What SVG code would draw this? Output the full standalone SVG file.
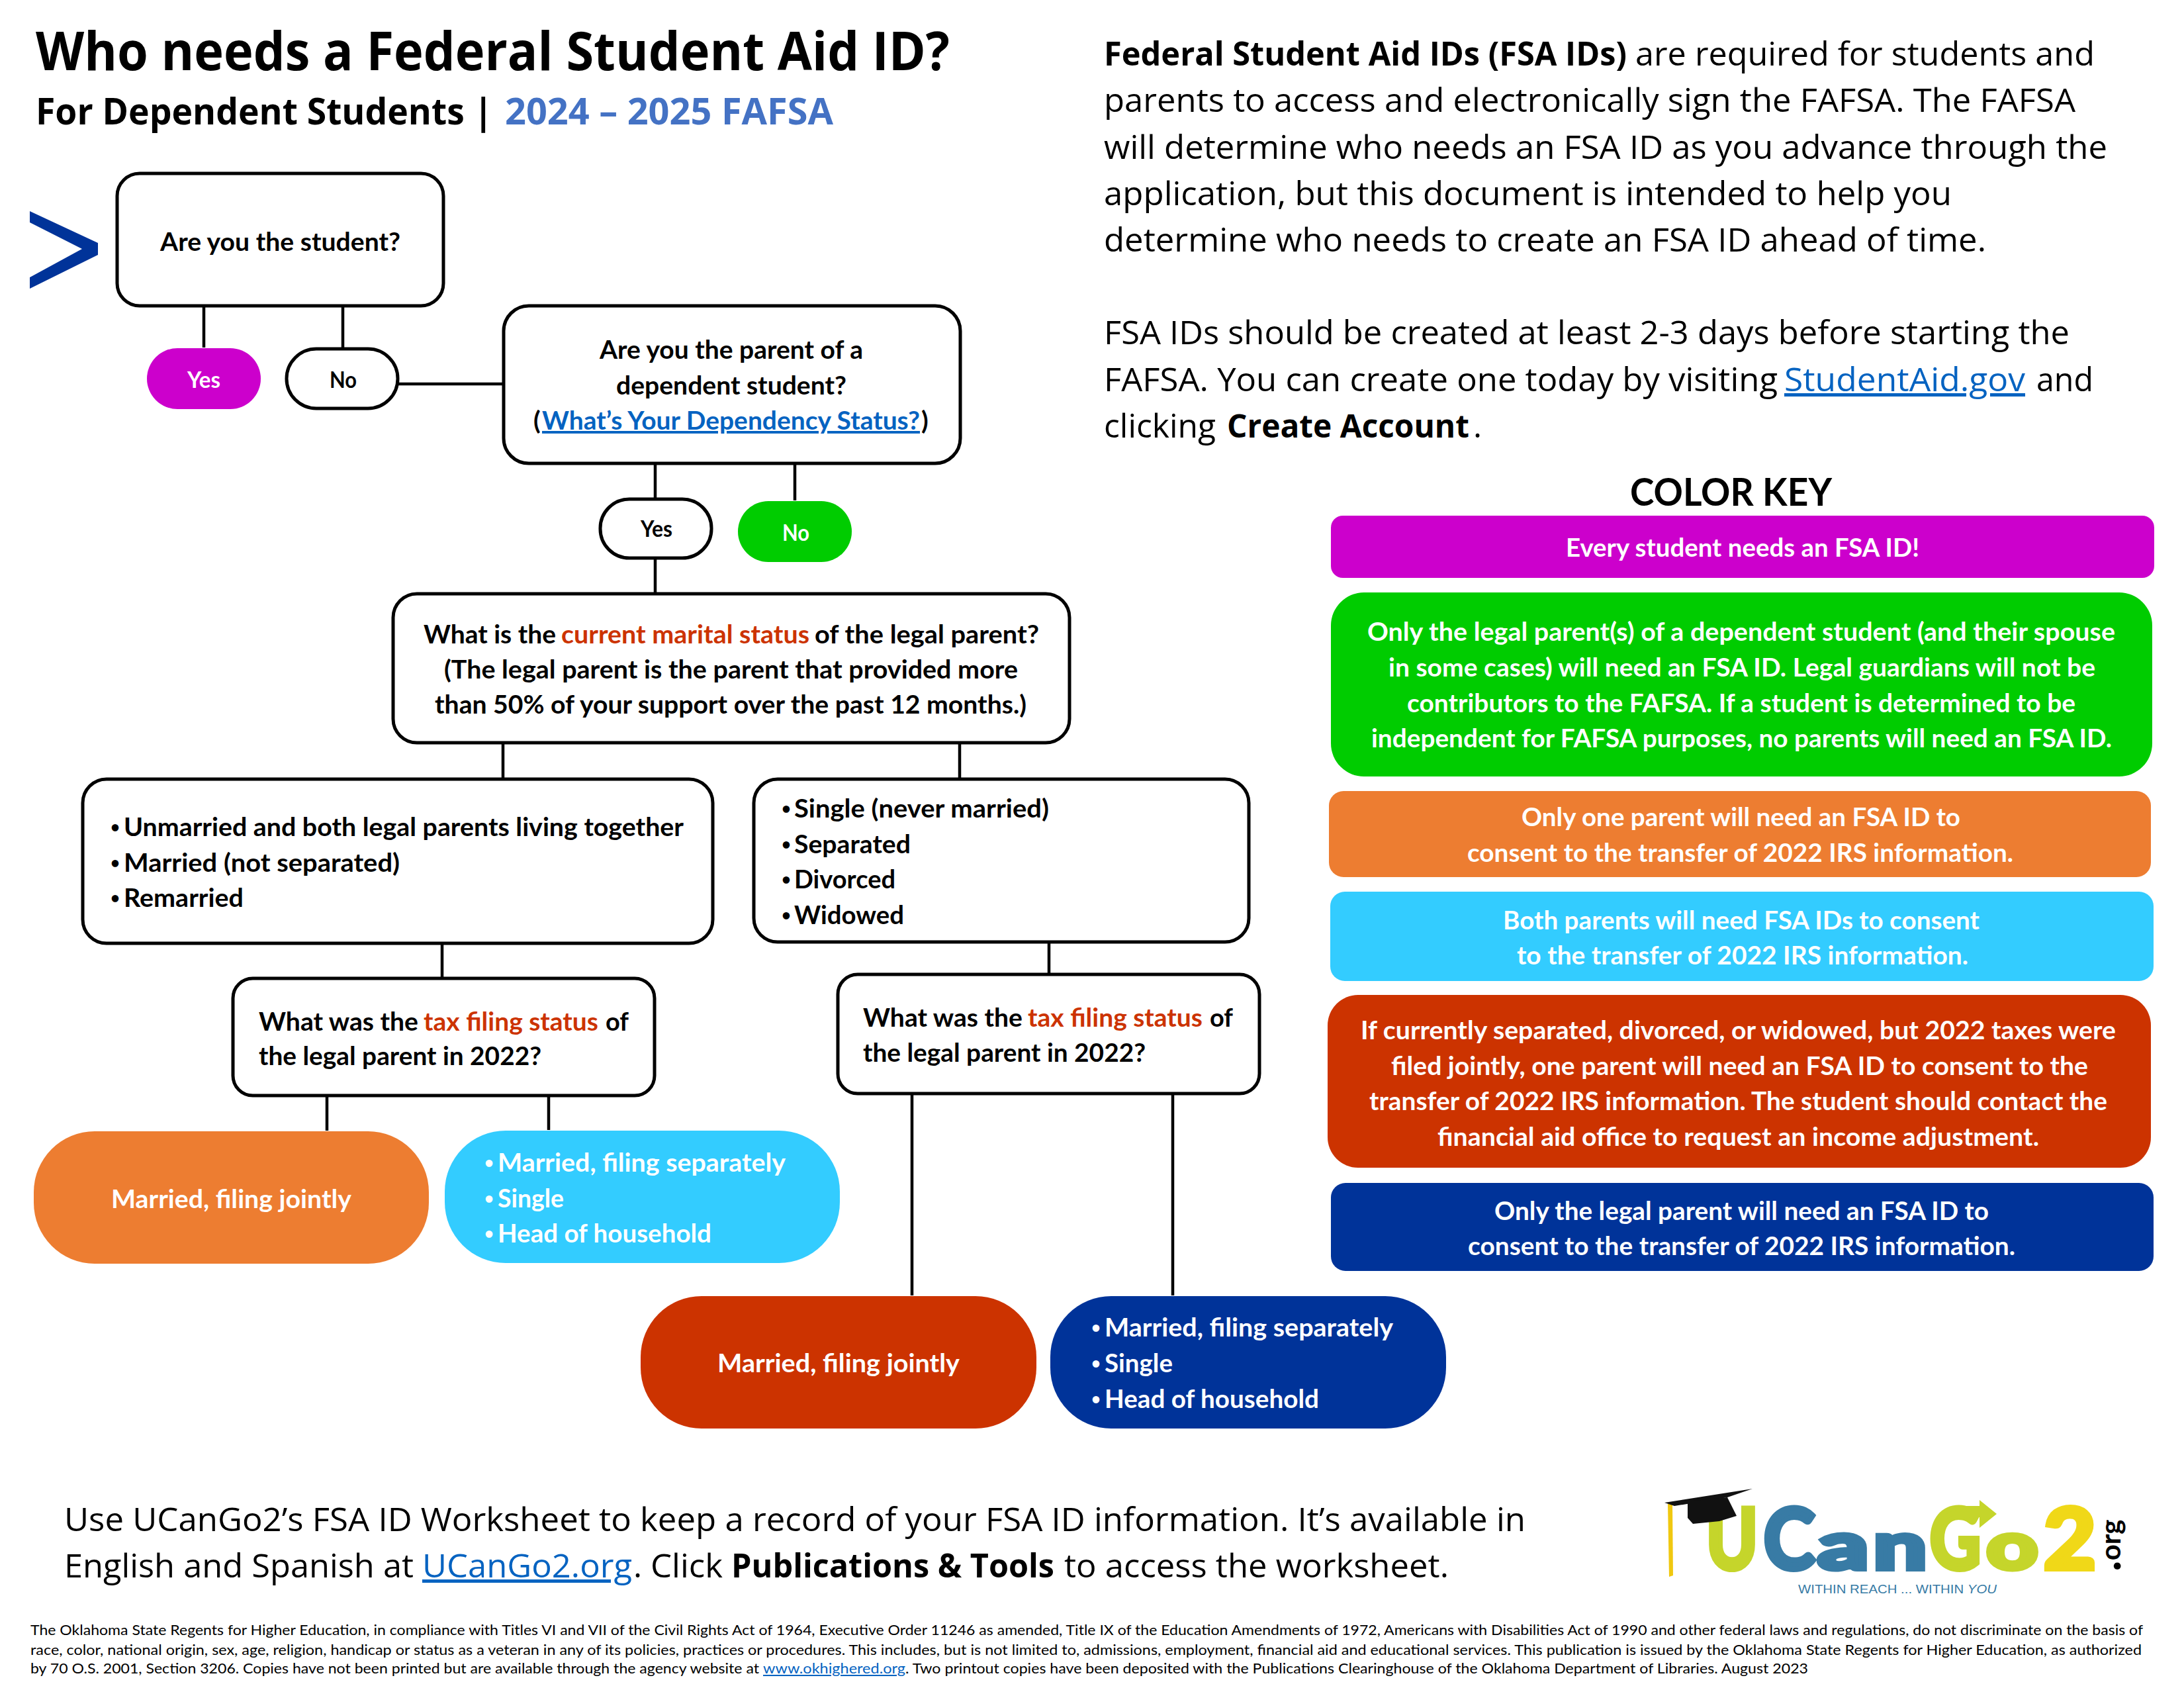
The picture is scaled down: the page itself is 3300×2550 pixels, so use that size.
<svg xmlns="http://www.w3.org/2000/svg" width="3300" height="2550" viewBox="0 0 3300 2550">
<style>
text{font-family:"Lato","Open Sans","Liberation Sans",sans-serif}
.t{font-family:"Open Sans","Liberation Sans",sans-serif;font-weight:700;fill:#000}
.p{font-family:"Open Sans","Liberation Sans",sans-serif;font-size:50px;fill:#000}
.pb{font-weight:700}
.l{fill:#0563C1;text-decoration:underline}
.b{font-weight:700;font-size:39px;fill:#000}
.w{font-weight:700;font-size:39px;fill:#fff}
.d{font-size:24px}
.r{fill:#CC3300}
.box{fill:#fff;stroke:#000;stroke-width:5}
.con{stroke:#000;stroke-width:4.5;fill:none}
.f{font-size:20.5px;fill:#000}
.logo{font-family:"DejaVu Sans Mono","DejaVu Sans",monospace;font-weight:700;stroke-width:8;stroke-linejoin:miter}
</style>
<rect width="3300" height="2550" fill="#fff"/>
<g id="heading">
<text class="t" x="54" y="106" font-size="80" textLength="1381" lengthAdjust="spacingAndGlyphs">Who needs a Federal Student Aid ID?</text>
<text class="t" x="54" y="188" font-size="56" textLength="691" lengthAdjust="spacingAndGlyphs">For Dependent Students |</text>
<text class="t" x="763" y="188" font-size="56" style="fill:#4472C4" textLength="496" lengthAdjust="spacingAndGlyphs">2024 – 2025 FAFSA</text>
</g>
<polygon id="chevron" points="45,319 148,367 148,385 45,436 45,419 124,376 45,336" fill="#003399"/>
<g id="connectors" class="con">
<path d="M308 462V525M518 462V527M601 580H761M990 700V752M1201 700V756M990 843V897M760 1122V1178M1450 1122V1178M668 1425V1476M1585 1423V1471M494 1655V1708M829 1655V1707M1378 1652V1957M1772 1652V1957"/>
</g>
<g id="n-student"><rect class="box" x="177" y="262" width="493" height="200" rx="34"/>
<text class="b" x="242" y="379" textLength="363" lengthAdjust="spacingAndGlyphs">Are you the student?</text></g>
<g id="n-yes1"><rect x="222" y="526" width="172" height="92" rx="46" fill="#CC00CC"/>
<text class="w" x="283" y="586" style="font-size:35px" textLength="50" lengthAdjust="spacingAndGlyphs">Yes</text></g>
<g id="n-no1"><rect class="box" x="433" y="527" width="168" height="90" rx="45"/>
<text class="b" x="498" y="586" style="font-size:35px" textLength="41" lengthAdjust="spacingAndGlyphs">No</text></g>
<g id="n-parent"><rect class="box" x="761" y="462" width="690" height="238" rx="38"/>
<text class="b" x="906" y="542" textLength="398" lengthAdjust="spacingAndGlyphs">Are you the parent of a</text>
<text class="b" x="931" y="596" textLength="348" lengthAdjust="spacingAndGlyphs">dependent student?</text>
<text class="b" x="806" y="649">(</text>
<text class="b l" x="819" y="649" textLength="571" lengthAdjust="spacingAndGlyphs" style="fill:#0563C1">What’s Your Dependency Status?</text>
<text class="b" x="1392" y="649">)</text></g>
<g id="n-yes2"><rect class="box" x="907" y="754" width="168" height="89" rx="44"/>
<text class="b" x="968" y="811" style="font-size:35px" textLength="48" lengthAdjust="spacingAndGlyphs">Yes</text></g>
<g id="n-no2"><rect x="1115" y="757" width="172" height="92" rx="46" fill="#00CC00"/>
<text class="w" x="1182" y="817" style="font-size:35px" textLength="41" lengthAdjust="spacingAndGlyphs">No</text></g>
<g id="n-marital"><rect class="box" x="594" y="897" width="1022" height="225" rx="36"/>
<text class="b" x="640" y="972" textLength="200" lengthAdjust="spacingAndGlyphs">What is the</text>
<text class="b r" x="848" y="972" style="fill:#CC3300" textLength="375" lengthAdjust="spacingAndGlyphs">current marital status</text>
<text class="b" x="1231" y="972" textLength="339" lengthAdjust="spacingAndGlyphs">of the legal parent?</text>
<text class="b" x="671" y="1025" textLength="867" lengthAdjust="spacingAndGlyphs">(The legal parent is the parent that provided more</text>
<text class="b" x="657" y="1078" textLength="894" lengthAdjust="spacingAndGlyphs">than 50% of your support over the past 12 months.)</text></g>
<g id="n-together"><rect class="box" x="125" y="1177" width="952" height="248" rx="36"/>
<text class="b d" x="167" y="1258">•</text><text class="b" x="187" y="1263" textLength="846" lengthAdjust="spacingAndGlyphs">Unmarried and both legal parents living together</text>
<text class="b d" x="167" y="1312">•</text><text class="b" x="187" y="1317" textLength="417" lengthAdjust="spacingAndGlyphs">Married (not separated)</text>
<text class="b d" x="167" y="1365">•</text><text class="b" x="187" y="1370" textLength="181" lengthAdjust="spacingAndGlyphs">Remarried</text></g>
<g id="n-single"><rect class="box" x="1139" y="1177" width="748" height="246" rx="36"/>
<text class="b d" x="1181" y="1230">•</text><text class="b" x="1200" y="1235" textLength="385" lengthAdjust="spacingAndGlyphs">Single (never married)</text>
<text class="b d" x="1181" y="1284">•</text><text class="b" x="1200" y="1289" textLength="176" lengthAdjust="spacingAndGlyphs">Separated</text>
<text class="b d" x="1181" y="1337">•</text><text class="b" x="1200" y="1342" textLength="153" lengthAdjust="spacingAndGlyphs">Divorced</text>
<text class="b d" x="1181" y="1391">•</text><text class="b" x="1200" y="1396" textLength="166" lengthAdjust="spacingAndGlyphs">Widowed</text></g>
<g id="n-tax1"><rect class="box" x="352" y="1478" width="637" height="177" rx="30"/>
<text class="b" x="391" y="1557" textLength="241" lengthAdjust="spacingAndGlyphs">What was the</text>
<text class="b r" x="640" y="1557" style="fill:#CC3300" textLength="264" lengthAdjust="spacingAndGlyphs">tax filing status</text>
<text class="b" x="915" y="1557" textLength="35" lengthAdjust="spacingAndGlyphs">of</text>
<text class="b" x="391" y="1609" textLength="427" lengthAdjust="spacingAndGlyphs">the legal parent in 2022?</text></g>
<g id="n-tax2"><rect class="box" x="1266" y="1472" width="637" height="180" rx="30"/>
<text class="b" x="1304" y="1551" textLength="241" lengthAdjust="spacingAndGlyphs">What was the</text>
<text class="b r" x="1553" y="1551" style="fill:#CC3300" textLength="264" lengthAdjust="spacingAndGlyphs">tax filing status</text>
<text class="b" x="1828" y="1551" textLength="35" lengthAdjust="spacingAndGlyphs">of</text>
<text class="b" x="1304" y="1604" textLength="427" lengthAdjust="spacingAndGlyphs">the legal parent in 2022?</text></g>
<g id="n-orange"><rect x="51" y="1709" width="597" height="200" rx="92" fill="#ED7D31"/>
<text class="w" x="168" y="1825" textLength="363" lengthAdjust="spacingAndGlyphs">Married, filing jointly</text></g>
<g id="n-cyan"><rect x="672" y="1708" width="597" height="200" rx="92" fill="#33CCFF"/>
<text class="w d" x="732" y="1765">•</text><text class="w" x="752" y="1770" textLength="435" lengthAdjust="spacingAndGlyphs">Married, filing separately</text>
<text class="w d" x="732" y="1819">•</text><text class="w" x="752" y="1824" textLength="100" lengthAdjust="spacingAndGlyphs">Single</text>
<text class="w d" x="732" y="1872">•</text><text class="w" x="752" y="1877" textLength="323" lengthAdjust="spacingAndGlyphs">Head of household</text></g>
<g id="n-red"><rect x="968" y="1958" width="598" height="200" rx="92" fill="#CC3300"/>
<text class="w" x="1084" y="2073" textLength="366" lengthAdjust="spacingAndGlyphs">Married, filing jointly</text></g>
<g id="n-navy"><rect x="1587" y="1958" width="598" height="200" rx="92" fill="#003399"/>
<text class="w d" x="1649" y="2014">•</text><text class="w" x="1669" y="2019" textLength="436" lengthAdjust="spacingAndGlyphs">Married, filing separately</text>
<text class="w d" x="1649" y="2068">•</text><text class="w" x="1669" y="2073" textLength="103" lengthAdjust="spacingAndGlyphs">Single</text>
<text class="w d" x="1649" y="2122">•</text><text class="w" x="1669" y="2127" textLength="324" lengthAdjust="spacingAndGlyphs">Head of household</text></g>
<g id="intro">
<text class="p pb" x="1668" y="99" textLength="790" lengthAdjust="spacingAndGlyphs">Federal Student Aid IDs (FSA IDs)</text>
<text class="p" x="2471" y="99" textLength="694" lengthAdjust="spacingAndGlyphs">are required for students and</text>
<text class="p" x="1668" y="169" textLength="1468" lengthAdjust="spacingAndGlyphs">parents to access and electronically sign the FAFSA. The FAFSA</text>
<text class="p" x="1668" y="240" textLength="1516" lengthAdjust="spacingAndGlyphs">will determine who needs an FSA ID as you advance through the</text>
<text class="p" x="1668" y="310" textLength="1281" lengthAdjust="spacingAndGlyphs">application, but this document is intended to help you</text>
<text class="p" x="1668" y="380" textLength="1333" lengthAdjust="spacingAndGlyphs">determine who needs to create an FSA ID ahead of time.</text>
<text class="p" x="1668" y="520" textLength="1459" lengthAdjust="spacingAndGlyphs">FSA IDs should be created at least 2-3 days before starting the</text>
<text class="p" x="1668" y="591" textLength="1018" lengthAdjust="spacingAndGlyphs">FAFSA. You can create one today by visiting</text>
<text class="p l" x="2696" y="591" textLength="364" lengthAdjust="spacingAndGlyphs" style="fill:#0563C1">StudentAid.gov</text>
<text class="p" x="3077" y="591" textLength="86" lengthAdjust="spacingAndGlyphs">and</text>
<text class="p" x="1668" y="661" textLength="169" lengthAdjust="spacingAndGlyphs">clicking</text>
<text class="p pb" x="1854" y="661" style="font-size:48px" textLength="366" lengthAdjust="spacingAndGlyphs">Create Account</text>
<text class="p" x="2226" y="661">.</text>
</g>
<g id="key-title"><text x="2463" y="764" font-weight="700" font-size="58" fill="#000" textLength="305" lengthAdjust="spacingAndGlyphs">COLOR KEY</text></g>
<g id="key-magenta"><rect x="2011" y="779" width="1244" height="94" rx="18" fill="#CC00CC"/>
<text class="w" x="2366" y="841" textLength="534" lengthAdjust="spacingAndGlyphs">Every student needs an FSA ID!</text></g>
<g id="key-green"><rect x="2011" y="895" width="1241" height="278" rx="50" fill="#00CC00"/>
<text class="w" x="2066" y="968" textLength="1130" lengthAdjust="spacingAndGlyphs">Only the legal parent(s) of a dependent student (and their spouse</text>
<text class="w" x="2098" y="1022" textLength="1068" lengthAdjust="spacingAndGlyphs">in some cases) will need an FSA ID. Legal guardians will not be</text>
<text class="w" x="2126" y="1076" textLength="1010" lengthAdjust="spacingAndGlyphs">contributors to the FAFSA. If a student is determined to be</text>
<text class="w" x="2072" y="1129" textLength="1119" lengthAdjust="spacingAndGlyphs">independent for FAFSA purposes, no parents will need an FSA ID.</text></g>
<g id="key-orange"><rect x="2008" y="1195" width="1242" height="130" rx="22" fill="#ED7D31"/>
<text class="w" x="2299" y="1248" textLength="663" lengthAdjust="spacingAndGlyphs">Only one parent will need an FSA ID to</text>
<text class="w" x="2217" y="1302" textLength="825" lengthAdjust="spacingAndGlyphs">consent to the transfer of 2022 IRS information.</text></g>
<g id="key-cyan"><rect x="2010" y="1347" width="1244" height="135" rx="22" fill="#33CCFF"/>
<text class="w" x="2271" y="1404" textLength="720" lengthAdjust="spacingAndGlyphs">Both parents will need FSA IDs to consent</text>
<text class="w" x="2292" y="1457" textLength="682" lengthAdjust="spacingAndGlyphs">to the transfer of 2022 IRS information.</text></g>
<g id="key-red"><rect x="2006" y="1503" width="1244" height="261" rx="46" fill="#CC3300"/>
<text class="w" x="2056" y="1570" textLength="1141" lengthAdjust="spacingAndGlyphs">If currently separated, divorced, or widowed, but 2022 taxes were</text>
<text class="w" x="2102" y="1624" textLength="1053" lengthAdjust="spacingAndGlyphs">filed jointly, one parent will need an FSA ID to consent to the</text>
<text class="w" x="2069" y="1677" textLength="1115" lengthAdjust="spacingAndGlyphs">transfer of 2022 IRS information. The student should contact the</text>
<text class="w" x="2172" y="1731" textLength="909" lengthAdjust="spacingAndGlyphs">financial aid office to request an income adjustment.</text></g>
<g id="key-navy"><rect x="2011" y="1787" width="1243" height="133" rx="22" fill="#003399"/>
<text class="w" x="2258" y="1843" textLength="747" lengthAdjust="spacingAndGlyphs">Only the legal parent will need an FSA ID to</text>
<text class="w" x="2218" y="1896" textLength="827" lengthAdjust="spacingAndGlyphs">consent to the transfer of 2022 IRS information.</text></g>
<g id="worksheet">
<text class="p" x="97" y="2313" textLength="2208" lengthAdjust="spacingAndGlyphs">Use UCanGo2’s FSA ID Worksheet to keep a record of your FSA ID information. It’s available in</text>
<text class="p" x="97" y="2383" textLength="528" lengthAdjust="spacingAndGlyphs">English and Spanish at</text>
<text class="p l" x="638" y="2383" textLength="317" lengthAdjust="spacingAndGlyphs" style="fill:#0563C1">UCanGo2.org</text>
<text class="p" x="957" y="2383">.</text>
<text class="p" x="983" y="2383" textLength="109" lengthAdjust="spacingAndGlyphs">Click</text>
<text class="p pb" x="1105" y="2383" textLength="488" lengthAdjust="spacingAndGlyphs">Publications &amp; Tools</text>
<text class="p" x="1608" y="2383" textLength="581" lengthAdjust="spacingAndGlyphs">to access the worksheet.</text>
</g>
<g id="logo">
<polygon points="2520,2272 2527,2272 2528,2380 2522,2382" fill="#F0C810"/>
<g class="logo">
<text x="2578" y="2370" font-size="126" fill="#C5D52B" stroke="#C5D52B" textLength="78" lengthAdjust="spacingAndGlyphs">U</text>
<text x="2665" y="2370" font-size="126" fill="#387BA5" stroke="#387BA5" textLength="77" lengthAdjust="spacingAndGlyphs">C</text>
<text x="2747" y="2370" font-size="98" fill="#387BA5" stroke="#387BA5" textLength="76" lengthAdjust="spacingAndGlyphs">a</text>
<text x="2831" y="2370" font-size="98" fill="#387BA5" stroke="#387BA5" textLength="80" lengthAdjust="spacingAndGlyphs">n</text>
<text x="2916" y="2370" font-size="126" fill="#C5D52B" stroke="#C5D52B" textLength="77" lengthAdjust="spacingAndGlyphs">G</text>
<text x="3002" y="2370" font-size="98" fill="#C5D52B" stroke="#C5D52B" textLength="77" lengthAdjust="spacingAndGlyphs">o</text>
<text x="3088" y="2370" font-size="126" fill="#F0D818" stroke="#F0D818" textLength="79" lengthAdjust="spacingAndGlyphs">2</text>
<text transform="translate(3204,2374) rotate(-90)" fill="#000" style="stroke-width:0"><tspan font-size="70">.</tspan><tspan font-size="42">org</tspan></text>
</g>
<polygon points="2515,2270 2648,2249 2610,2262 2530,2275" fill="#111"/>
<polygon points="2550,2268 2610,2262 2624,2290 2598,2298 2558,2302 2550,2293" fill="#111"/>
<polygon points="2955,2275 2991,2275 2991,2266 3017,2287 2991,2308 2991,2292 2955,2292" fill="#C5D52B"/>
<text x="2717" y="2407" style="font-family:'Liberation Sans',sans-serif" font-size="18" fill="#387BA5" textLength="300" lengthAdjust="spacingAndGlyphs">WITHIN REACH ... WITHIN <tspan font-style="italic">YOU</tspan></text>
</g>
<g id="disclaimer">
<text class="f" x="46" y="2470" textLength="3192" lengthAdjust="spacingAndGlyphs">The Oklahoma State Regents for Higher Education, in compliance with Titles VI and VII of the Civil Rights Act of 1964, Executive Order 11246 as amended, Title IX of the Education Amendments of 1972, Americans with Disabilities Act of 1990 and other federal laws and regulations, do not discriminate on the basis of</text>
<text class="f" x="46" y="2500" textLength="3190" lengthAdjust="spacingAndGlyphs">race, color, national origin, sex, age, religion, handicap or status as a veteran in any of its policies, practices or procedures. This includes, but is not limited to, admissions, employment, financial aid and educational services. This publication is issued by the Oklahoma State Regents for Higher Education, as authorized</text>
<text class="f" x="46" y="2528" textLength="1101" lengthAdjust="spacingAndGlyphs">by 70 O.S. 2001, Section 3206. Copies have not been printed but are available through the agency website at</text>
<text class="f l" x="1153" y="2528" textLength="215" lengthAdjust="spacingAndGlyphs" style="fill:#0563C1">www.okhighered.org</text>
<text class="f" x="1368" y="2528" textLength="1364" lengthAdjust="spacingAndGlyphs">. Two printout copies have been deposited with the Publications Clearinghouse of the Oklahoma Department of Libraries. August 2023</text>
</g>
</svg>
